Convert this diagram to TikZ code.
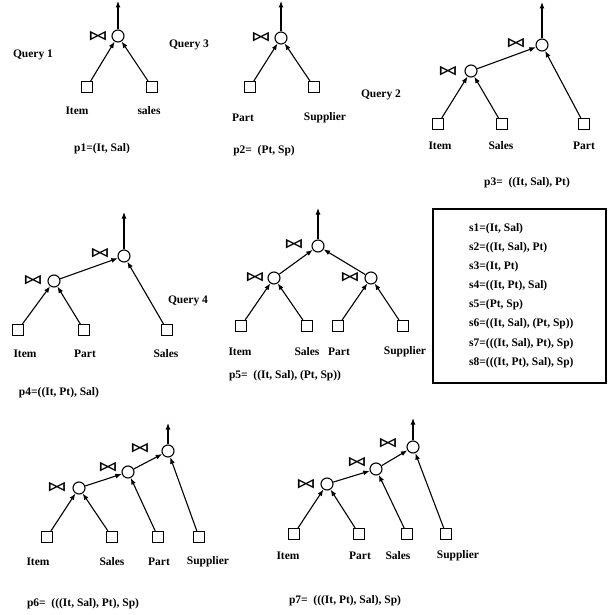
\documentclass[tikz,border=0pt]{standalone}
\usepackage{fontspec}
\usepackage{graphicx}
\setmainfont{Liberation Serif}
\newfontfamily\symfont{DejaVu Sans}
\usetikzlibrary{arrows.meta}
\newcommand{\jsym}{\scalebox{1.45}[1]{⋈}}
\begin{document}
\begin{tikzpicture}[x=1pt,y=-1pt,
 rel/.style={draw, line width=1.1pt, minimum size=11pt, inner sep=0pt},
 op/.style={draw, circle, line width=1.1pt, minimum size=12pt, inner sep=0pt},
 jn/.style={font=\symfont\fontsize{14}{14}\selectfont, inner sep=0pt},
 lbl/.style={font=\fontsize{11.5}{12}\selectfont\bfseries, inner sep=0pt},
 edge/.style={line width=1.1pt, -{Latex[length=6.5pt,width=5pt]}},
 boxline/.style={lbl, anchor=west},
]
\useasboundingbox (0,0) rectangle (608,615);

% ---------- Tree 1 ----------
\node[lbl] (q1) at (33,55) {Query 1};
\node[op] (t1r) at (118,36) {};
\node[jn] (t1j) at (98,36) {\jsym};
\node[rel] (t1a) at (87,87) {};
\node[rel] (t1b) at (152,87) {};
\coordinate (t1o) at (118,1);
\draw[edge] (t1a) -- (t1r);
\draw[edge] (t1b) -- (t1r);
\draw[edge] (t1r) -- (t1o);
\node[lbl] (t1la) at (77,111) {Item};
\node[lbl] (t1lb) at (149,111) {sales};
\node[lbl] (p1) at (102,149) {p1=(It, Sal)};

% ---------- Tree 2 ----------
\node[lbl] (q3) at (189,45) {Query 3};
\node[op] (t2r) at (281,38) {};
\node[jn] (t2j) at (261,37) {\jsym};
\node[rel] (t2a) at (250,87) {};
\node[rel] (t2b) at (314,87) {};
\coordinate (t2o) at (281,1);
\draw[edge] (t2a) -- (t2r);
\draw[edge] (t2b) -- (t2r);
\draw[edge] (t2r) -- (t2o);
\node[lbl] (t2la) at (243,118) {Part};
\node[lbl] (t2lb) at (325,118) {Supplier};
\node[lbl] (p2) at (264,151) {p2=\ \ (Pt, Sp)};

% ---------- Tree 3 ----------
\node[lbl] (q2) at (381,95) {Query 2};
\node[op] (t3r) at (542,45) {};
\node[jn] (t3j) at (516,43) {\jsym};
\node[op] (t3m) at (471,71) {};
\node[jn] (t3k) at (448,71) {\jsym};
\node[rel] (t3a) at (438,124) {};
\node[rel] (t3b) at (502,124) {};
\node[rel] (t3c) at (584,124) {};
\coordinate (t3o) at (542,2);
\draw[edge] (t3a) -- (t3m);
\draw[edge] (t3b) -- (t3m);
\draw[edge] (t3m) -- (t3r);
\draw[edge] (t3c) -- (t3r);
\draw[edge] (t3r) -- (t3o);
\node[lbl] (t3la) at (440,146) {Item};
\node[lbl] (t3lb) at (501,146) {Sales};
\node[lbl] (t3lc) at (584,146) {Part};
\node[lbl] (p3) at (527,183) {p3=\ \ ((It, Sal), Pt)};

% ---------- Tree 4 ----------
\node[lbl] (q4) at (188,301) {Query 4};
\node[op] (t4r) at (124,256) {};
\node[jn] (t4j) at (100,253) {\jsym};
\node[op] (t4m) at (54,281) {};
\node[jn] (t4k) at (33,280) {\jsym};
\node[rel] (t4a) at (18,330) {};
\node[rel] (t4b) at (84,330) {};
\node[rel] (t4c) at (167,330) {};
\coordinate (t4o) at (124,212);
\draw[edge] (t4a) -- (t4m);
\draw[edge] (t4b) -- (t4m);
\draw[edge] (t4m) -- (t4r);
\draw[edge] (t4c) -- (t4r);
\draw[edge] (t4r) -- (t4o);
\node[lbl] (t4la) at (25,354) {Item};
\node[lbl] (t4lb) at (85,354) {Part};
\node[lbl] (t4lc) at (166,354) {Sales};
\node[lbl] (p4) at (59,393) {p4=((It, Pt), Sal)};

% ---------- Tree 5 ----------
\node[op] (t5r) at (318,246) {};
\node[jn] (t5j) at (294,244) {\jsym};
\node[op] (t5m) at (274,278) {};
\node[jn] (t5k) at (255,277) {\jsym};
\node[op] (t5n) at (371,278) {};
\node[jn] (t5l) at (350,277) {\jsym};
\node[rel] (t5a) at (241,326) {};
\node[rel] (t5b) at (307,326) {};
\node[rel] (t5c) at (338,326) {};
\node[rel] (t5d) at (403,326) {};
\coordinate (t5o) at (318,208);
\draw[edge] (t5a) -- (t5m);
\draw[edge] (t5b) -- (t5m);
\draw[edge] (t5c) -- (t5n);
\draw[edge] (t5d) -- (t5n);
\draw[edge] (t5m) -- (t5r);
\draw[edge] (t5n) -- (t5r);
\draw[edge] (t5r) -- (t5o);
\node[lbl] (t5la) at (240,352) {Item};
\node[lbl] (t5lb) at (307,352) {Sales};
\node[lbl] (t5lc) at (339,352) {Part};
\node[lbl] (t5ld) at (405,352) {Supplier};
\node[lbl] (p5) at (285,376) {p5=\ \ ((It, Sal), (Pt, Sp))};

% ---------- Box ----------
\node[draw, line width=1.1pt, minimum width=173pt, minimum height=174pt, inner sep=0pt] (box) at (519.5,296) {};
\node[boxline] (s1) at (469,229) {s1=(It, Sal)};
\node[boxline] (s2) at (469,248) {s2=((It, Sal), Pt)};
\node[boxline] (s3) at (469,267) {s3=(It, Pt)};
\node[boxline] (s4) at (469,286) {s4=((It, Pt), Sal)};
\node[boxline] (s5) at (469,305) {s5=(Pt, Sp)};
\node[boxline] (s6) at (469,324) {s6=((It, Sal), (Pt, Sp))};
\node[boxline] (s7) at (469,344) {s7=(((It, Sal), Pt), Sp)};
\node[boxline] (s8) at (469,363) {s8=(((It, Pt), Sal), Sp)};

% ---------- Tree 6 ----------
\node[op] (t6r) at (168,451) {};
\node[jn] (t6j) at (140,448) {\jsym};
\node[op] (t6m) at (128,472) {};
\node[jn] (t6k) at (108,467) {\jsym};
\node[op] (t6n) at (79,488) {};
\node[jn] (t6l) at (57,487) {\jsym};
\node[rel] (t6a) at (47,537) {};
\node[rel] (t6b) at (112,537) {};
\node[rel] (t6c) at (158,537) {};
\node[rel] (t6d) at (199,537) {};
\coordinate (t6o) at (168,423);
\draw[edge] (t6a) -- (t6n);
\draw[edge] (t6b) -- (t6n);
\draw[edge] (t6n) -- (t6m);
\draw[edge] (t6c) -- (t6m);
\draw[edge] (t6m) -- (t6r);
\draw[edge] (t6d) -- (t6r);
\draw[edge] (t6r) -- (t6o);
\node[lbl] (t6la) at (38,562) {Item};
\node[lbl] (t6lb) at (112,562) {Sales};
\node[lbl] (t6lc) at (159,562) {Part};
\node[lbl] (t6ld) at (208,562) {Supplier};
\node[lbl] (p6) at (83,604) {p6=\ \ (((It, Sal), Pt), Sp)};

% ---------- Tree 7 ----------
\node[op] (t7r) at (413,447) {};
\node[jn] (t7j) at (388,443) {\jsym};
\node[op] (t7m) at (376,469) {};
\node[jn] (t7k) at (357,462) {\jsym};
\node[op] (t7n) at (327,484) {};
\node[jn] (t7l) at (306,484) {\jsym};
\node[rel] (t7a) at (294,534) {};
\node[rel] (t7b) at (359,534) {};
\node[rel] (t7c) at (407,534) {};
\node[rel] (t7d) at (446,534) {};
\coordinate (t7o) at (413,418);
\draw[edge] (t7a) -- (t7n);
\draw[edge] (t7b) -- (t7n);
\draw[edge] (t7n) -- (t7m);
\draw[edge] (t7c) -- (t7m);
\draw[edge] (t7m) -- (t7r);
\draw[edge] (t7d) -- (t7r);
\draw[edge] (t7r) -- (t7o);
\node[lbl] (t7la) at (288,556) {Item};
\node[lbl] (t7lb) at (360,556) {Part};
\node[lbl] (t7lc) at (398,556) {Sales};
\node[lbl] (t7ld) at (458,556) {Supplier};
\node[lbl] (p7) at (345,601) {p7=\ \ (((It, Pt), Sal), Sp)};
\end{tikzpicture}
\end{document}
